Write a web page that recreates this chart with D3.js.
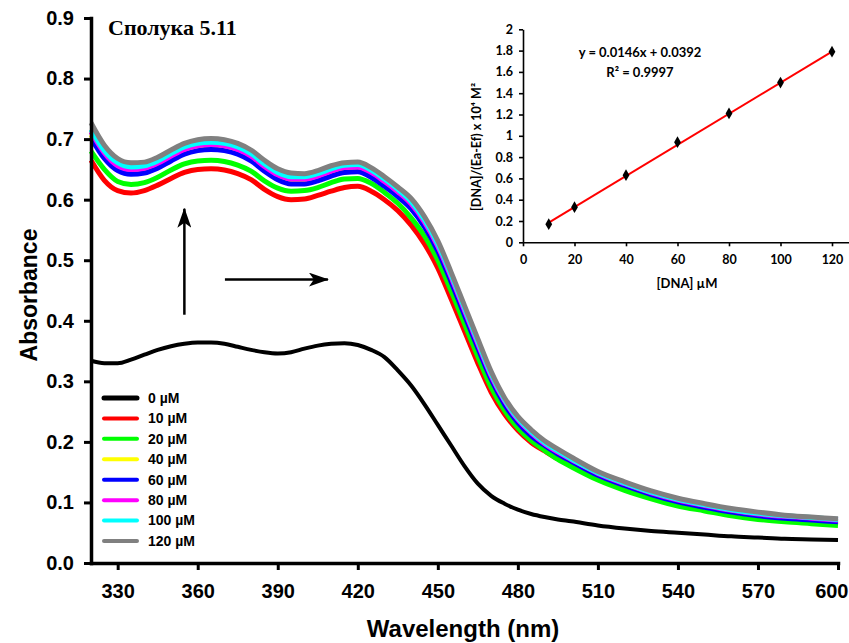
<!DOCTYPE html>
<html>
<head>
<meta charset="utf-8">
<script src="https://cdn.jsdelivr.net/npm/d3@7"></script>
<style>
  body { margin: 0; background: #fff; }
  svg { display: block; }
</style>
</head>
<body>
<div id="chart"></div>
<script>
// wavelength grid (nm) shared by every spectrum
const wavelengths = [320,325,330,335,340,345,350,355,360,365,370,375,380,385,390,395,400,405,410,415,420,425,430,435,440,445,450,455,460,465,470,475,480,485,490,495,500,510,520,530,540,550,560,570,580,590,600];

// absorbance, one array per DNA concentration
const abs0   = [0.334,0.330,0.330,0.336,0.344,0.352,0.358,0.362,0.364,0.364,0.362,0.357,0.352,0.348,0.346,0.348,0.354,0.359,0.362,0.363,0.360,0.352,0.340,0.318,0.293,0.262,0.228,0.194,0.160,0.131,0.111,0.098,0.088,0.081,0.076,0.072,0.069,0.062,0.057,0.053,0.050,0.047,0.044,0.042,0.040,0.039,0.038];
const abs10  = [0.665,0.632,0.615,0.611,0.615,0.624,0.635,0.645,0.650,0.651,0.649,0.643,0.633,0.617,0.605,0.600,0.601,0.607,0.614,0.620,0.622,0.614,0.600,0.582,0.558,0.527,0.487,0.436,0.383,0.330,0.282,0.246,0.219,0.199,0.185,0.172,0.162,0.141,0.124,0.110,0.098,0.089,0.082,0.076,0.072,0.068,0.065];
const abs20  = [0.680,0.650,0.630,0.625,0.628,0.637,0.649,0.659,0.664,0.665,0.663,0.657,0.647,0.631,0.619,0.614,0.615,0.620,0.628,0.634,0.635,0.627,0.612,0.594,0.570,0.540,0.500,0.449,0.395,0.341,0.290,0.252,0.223,0.202,0.186,0.171,0.159,0.137,0.120,0.106,0.094,0.086,0.078,0.072,0.068,0.065,0.062];
const abs40  = [0.707,0.672,0.652,0.646,0.648,0.656,0.668,0.679,0.685,0.687,0.685,0.679,0.668,0.651,0.637,0.630,0.630,0.635,0.643,0.649,0.650,0.641,0.626,0.609,0.589,0.559,0.519,0.468,0.413,0.358,0.306,0.265,0.234,0.212,0.195,0.181,0.169,0.146,0.129,0.114,0.102,0.093,0.085,0.079,0.075,0.072,0.069];
const abs60  = [0.702,0.668,0.648,0.642,0.644,0.652,0.664,0.675,0.681,0.683,0.681,0.675,0.664,0.647,0.633,0.626,0.626,0.631,0.639,0.645,0.646,0.637,0.622,0.605,0.585,0.555,0.515,0.464,0.409,0.355,0.303,0.262,0.232,0.210,0.194,0.180,0.168,0.145,0.128,0.113,0.101,0.092,0.084,0.078,0.074,0.071,0.068];
const abs80  = [0.712,0.677,0.656,0.650,0.652,0.660,0.672,0.683,0.689,0.691,0.689,0.683,0.672,0.655,0.641,0.634,0.634,0.639,0.647,0.653,0.654,0.645,0.630,0.613,0.593,0.563,0.523,0.472,0.417,0.362,0.309,0.268,0.237,0.215,0.197,0.183,0.171,0.148,0.131,0.116,0.104,0.095,0.087,0.081,0.077,0.074,0.071];
const abs100 = [0.716,0.681,0.661,0.654,0.656,0.664,0.676,0.687,0.693,0.695,0.693,0.687,0.676,0.659,0.645,0.638,0.638,0.643,0.651,0.657,0.658,0.649,0.634,0.617,0.597,0.567,0.527,0.476,0.421,0.366,0.312,0.270,0.239,0.217,0.199,0.185,0.172,0.149,0.132,0.117,0.105,0.096,0.088,0.082,0.078,0.075,0.072];
const abs120 = [0.727,0.690,0.668,0.661,0.662,0.670,0.682,0.693,0.699,0.701,0.699,0.693,0.682,0.665,0.651,0.644,0.643,0.648,0.656,0.661,0.662,0.653,0.638,0.621,0.602,0.572,0.532,0.480,0.425,0.370,0.316,0.273,0.242,0.220,0.202,0.188,0.175,0.151,0.134,0.119,0.107,0.098,0.090,0.084,0.079,0.076,0.073];

const seriesLabels = ["0 µM","10 µM","20 µM","40 µM","60 µM","80 µM","100 µM","120 µM"];
const seriesColours = ["#000000","#ff0000","#00ff00","#ffff00","#0000ff","#ff00ff","#00ffff","#808080"];
const seriesValues = [abs0, abs10, abs20, abs40, abs60, abs80, abs100, abs120];

const xTicks = [330,360,390,420,450,480,510,540,570,600];
const yTicks = [0,0.1,0.2,0.3,0.4,0.5,0.6,0.7,0.8,0.9];

// annotation arrows in data units: [wl0, a0, wl1, a1]
const arrows = [[355,0.41,355,0.585],[370.2,0.468,408.8,0.468]];

// inset: binding plot
const dnaConc = [10,20,40,60,80,100,120];
const dnaRatio = [0.17,0.33,0.63,0.94,1.21,1.50,1.79];
const fitSlope = 0.0146;
const fitIntercept = 0.0392;
const insetXTicks = [0,20,40,60,80,100,120];
const insetYTicks = [0,0.2,0.4,0.6,0.8,1,1.2,1.4,1.6,1.8,2];

const width = 849, height = 643;

const svg = d3.select('#chart').append('svg')
    .attr('width', width)
    .attr('height', height);
svg.append('rect').attr('width', width).attr('height', height).attr('fill', '#fff');

const x = d3.scaleLinear().domain([320, 600]).range([91, 838]);
const y = d3.scaleLinear().domain([0, 0.9]).range([563, 18]);

// spectra
const line = d3.line()
    .x((d, i) => x(wavelengths[i]))
    .y(d => y(d))
    .curve(d3.curveMonotoneX);

svg.append('g').selectAll('path')
    .data(seriesValues)
    .enter().append('path')
    .attr('d', d => line(d))
    .attr('fill', 'none')
    .attr('stroke', (d, i) => seriesColours[i])
    .attr('stroke-width', (d, i) => i === 0 ? 4 : 5)
    .attr('stroke-linejoin', 'round');

// main axes
const font = "'Liberation Sans', Arial, sans-serif";

const gx = svg.append('g')
    .attr('transform', `translate(0,${y(0)})`)
    .call(d3.axisBottom(x).tickValues(xTicks).tickSize(7).tickSizeOuter(0).tickPadding(14));
const gy = svg.append('g')
    .attr('transform', `translate(${x(320)},0)`)
    .call(d3.axisLeft(y).tickValues(yTicks).tickSize(7).tickSizeOuter(0).tickPadding(10).tickFormat(d3.format('.1f')));

[gx, gy].forEach(g => {
    g.select('.domain').attr('stroke', '#000').attr('stroke-width', 3.5).attr('stroke-linecap', 'square');
    g.selectAll('.tick line').attr('stroke', '#000').attr('stroke-width', 3);
    g.selectAll('.tick text')
        .attr('fill', '#000')
        .style('font-family', font)
        .style('font-weight', 'bold')
        .style('font-size', '20px');
});
// last label sits against the right edge of the page
gx.selectAll('.tick text').filter(d => d === 600)
    .attr('text-anchor', 'end')
    .attr('x', 10);

svg.append('text')
    .attr('transform', 'translate(37,295) rotate(-90)')
    .attr('text-anchor', 'middle')
    .style('font-family', font)
    .style('font-weight', 'bold')
    .style('font-size', '23px')
    .text('Absorbance');

svg.append('text')
    .attr('x', 463)
    .attr('y', 637)
    .attr('text-anchor', 'middle')
    .style('font-family', font)
    .style('font-weight', 'bold')
    .style('font-size', '24px')
    .text('Wavelength (nm)');

svg.append('text')
    .attr('x', 108)
    .attr('y', 35)
    .style('font-family', "'Liberation Serif', 'Times New Roman', serif")
    .style('font-weight', 'bold')
    .style('font-size', '22px')
    .text('Сполука 5.11');

// arrows
const defs = svg.append('defs');
defs.append('marker')
    .attr('id', 'head')
    .attr('viewBox', '0 0 20 14')
    .attr('refX', 19).attr('refY', 7)
    .attr('markerWidth', 20).attr('markerHeight', 14)
    .attr('markerUnits', 'userSpaceOnUse')
    .attr('orient', 'auto')
    .append('path')
    .attr('d', 'M0,0 L20,7 L0,14 L5,7 Z')
    .attr('fill', '#000');

svg.append('g').selectAll('line')
    .data(arrows)
    .enter().append('line')
    .attr('x1', d => x(d[0])).attr('y1', d => y(d[1]))
    .attr('x2', d => x(d[2])).attr('y2', d => y(d[3]))
    .attr('stroke', '#000')
    .attr('stroke-width', 2.5)
    .attr('marker-end', 'url(#head)');

// legend
const ly = d3.scalePoint().domain(seriesLabels).range([398, 541]);
const legend = svg.append('g').selectAll('g')
    .data(seriesLabels)
    .enter().append('g')
    .attr('transform', d => `translate(0,${ly(d)})`);
legend.append('line')
    .attr('x1', 104).attr('x2', 137)
    .attr('stroke', (d, i) => seriesColours[i])
    .attr('stroke-width', (d, i) => i === 0 ? 5 : 4)
    .attr('stroke-linecap', 'round');
legend.append('text')
    .attr('x', 148)
    .attr('dy', '0.35em')
    .style('font-family', font)
    .style('font-weight', 'bold')
    .style('font-size', '14px')
    .text(d => d);

// inset
const insetFont = "Lato, 'Open Sans', sans-serif";
const ix = d3.scaleLinear().domain([0, 140]).range([523, 883.5]);
const iy = d3.scaleLinear().domain([0, 2]).range([242.3, 29.3]);
const inset = svg.append('g');

const igx = inset.append('g')
    .attr('transform', `translate(0,${iy(0)})`)
    .call(d3.axisBottom(ix).tickValues(insetXTicks).tickSize(4).tickSizeOuter(0).tickPadding(9));
const igy = inset.append('g')
    .attr('transform', `translate(${ix(0)},0)`)
    .call(d3.axisLeft(iy).tickValues(insetYTicks).tickSize(4).tickSizeOuter(0).tickPadding(6)
        .tickFormat(d => String(Math.round(d * 10) / 10)));

[igx, igy].forEach(g => {
    g.select('.domain').attr('stroke', '#000').attr('stroke-width', 1.6);
    g.selectAll('.tick line').attr('stroke', '#000').attr('stroke-width', 1.6);
    g.selectAll('.tick text')
        .attr('fill', '#000')
        .style('font-family', insetFont)
        .style('font-weight', 'bold')
        .style('font-size', '12.5px');
});

// trend line from the fitted equation
const fitX = [d3.min(dnaConc), d3.max(dnaConc)];
inset.append('line')
    .attr('x1', ix(fitX[0])).attr('y1', iy(fitSlope * fitX[0] + fitIntercept))
    .attr('x2', ix(fitX[1])).attr('y2', iy(fitSlope * fitX[1] + fitIntercept))
    .attr('stroke', '#ff0000')
    .attr('stroke-width', 2);

inset.append('g').selectAll('path')
    .data(dnaConc)
    .enter().append('path')
    .attr('transform', (d, i) => `translate(${ix(d)},${iy(dnaRatio[i])})`)
    .attr('d', d3.symbol().type(d3.symbolDiamond).size(40))
    .attr('fill', '#000');

inset.append('text')
    .attr('x', 640).attr('y', 57)
    .attr('text-anchor', 'middle')
    .style('font-family', insetFont)
    .style('font-weight', 'bold')
    .style('font-size', '13px')
    .text('y = 0.0146x + 0.0392');
inset.append('text')
    .attr('x', 640).attr('y', 77)
    .attr('text-anchor', 'middle')
    .style('font-family', insetFont)
    .style('font-weight', 'bold')
    .style('font-size', '13px')
    .text('R² = 0.9997');

inset.append('text')
    .attr('x', 687).attr('y', 288)
    .attr('text-anchor', 'middle')
    .style('font-family', insetFont)
    .style('font-weight', 'bold')
    .style('font-size', '13px')
    .text('[DNA] µM');

inset.append('text')
    .attr('transform', 'translate(481,147) rotate(-90)')
    .attr('text-anchor', 'middle')
    .style('font-family', insetFont)
    .style('font-weight', 'bold')
    .style('font-size', '12.5px')
    .text('[DNA]/(Ea-Ef) x 10⁴ M²');
</script>
</body>
</html>
